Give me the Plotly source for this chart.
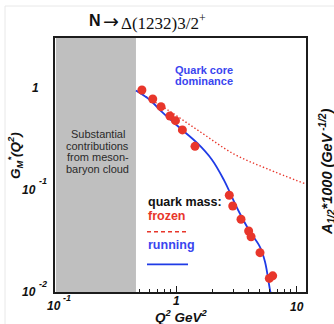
import plotly.graph_objects as go

# ---------------- data ----------------
q2_data = [0.52, 0.64, 0.75, 0.89, 0.99, 1.13, 1.44, 2.78, 2.97, 3.48, 4.03, 4.22, 5.01, 5.99, 6.39]
gm_data = [0.956, 0.78, 0.656, 0.531, 0.478, 0.388, 0.268, 0.0887, 0.0697, 0.0516, 0.0396,
           0.0348, 0.0243, 0.0136, 0.0144]

q2_running = [0.464, 0.607, 0.779, 1.08, 1.50, 2.00, 2.51, 3.29, 4.14, 5.01, 5.52, 6.07, 6.25]
gm_running = [0.945, 0.763, 0.569, 0.405, 0.289, 0.197, 0.125, 0.0637, 0.0388, 0.0276, 0.0197,
              0.0105, 0.0091]

q2_frozen = [0.47, 0.846, 1.61, 3.04, 5.77, 12.05]
gm_frozen = [0.929, 0.613, 0.368, 0.225, 0.161, 0.1145]

cloud_region = [0.1, 0.464]  # Q^2 range of the meson-baryon cloud band

x_minor_ticks = [0.5, 0.6, 0.7, 0.8, 0.9, 2, 3, 4, 5, 6, 7, 8, 9]
x_major_ticks = [1, 10]

# ---------------- layout helpers ----------------
W, H = 334, 324
L, R, T, B = 55, 28, 38, 32
PW, PH = W - L - R, H - T - B


def px(x):
    return (x - L) / PW


def py(y):
    return (H - B - y) / PH


SANS = "Liberation Sans, Arial, sans-serif"
SERIF = "Liberation Serif, Times New Roman, serif"
RED = "#e8362b"
BLUE = "#1f3be6"
TXTBLUE = "#3a45ef"

fig = go.Figure()

fig.add_trace(go.Scatter(x=q2_frozen, y=gm_frozen, mode="lines",
                         line=dict(color=RED, width=1.4, dash="1.4px,2.2px", shape="spline"),
                         showlegend=False, hoverinfo="skip"))
fig.add_trace(go.Scatter(x=q2_running, y=gm_running, mode="lines",
                         line=dict(color=BLUE, width=1.8, shape="spline"),
                         showlegend=False, hoverinfo="skip"))
fig.add_trace(go.Scatter(x=q2_data, y=gm_data, mode="markers",
                         marker=dict(color=RED, size=9, line=dict(width=0)),
                         showlegend=False))

shapes = [
    # meson-baryon cloud band
    dict(type="rect", xref="x", yref="paper", x0=cloud_region[0], x1=cloud_region[1],
         y0=0, y1=1, fillcolor="#bfbfbf", line=dict(width=0), layer="below"),
    # legend lines
    dict(type="line", xref="paper", yref="paper", x0=px(147), x1=px(188), y0=py(231.7), y1=py(231.7),
         line=dict(color=RED, width=1.6, dash="4px,3px")),
    dict(type="line", xref="paper", yref="paper", x0=px(147), x1=px(188), y0=py(264.3), y1=py(264.3),
         line=dict(color=BLUE, width=1.8)),
    # faint outer frame
    dict(type="rect", xref="paper", yref="paper", x0=px(5), x1=px(345), y0=py(340), y1=py(6),
         line=dict(color="#e8e8e8", width=1), fillcolor="rgba(0,0,0,0)"),
]

ann = []


def text(x, y, s, size, color="#111", family=SANS, xanchor="center", angle=0):
    ann.append(dict(x=px(x), y=py(y), xref="paper", yref="paper", text=s, showarrow=False,
                    xanchor=xanchor, yanchor="middle", textangle=angle,
                    font=dict(size=size, color=color, family=family)))


# title
text(102.5, 21, "<b>N</b>", 16, "#111", SANS, "right")
text(110.5, 21, "→", 19, "#111", "DejaVu Sans", "center")
text(118.5, 22, "Δ(1232)3/2<sup>+</sup>", 17, "#111", SERIF, "left")

# y tick labels
text(35, 88, "<b><i>1</i></b>", 12)
text(28.5, 190, "<b><i>10</i></b>", 12)
text(43, 181, "<b><i>-1</i></b>", 9)
text(28.5, 292, "<b><i>10</i></b>", 12)
text(43, 284, "<b><i>-2</i></b>", 9)
# x tick labels
text(53.5, 306, "<b><i>10</i></b>", 12)
text(67, 298, "<b><i>-1</i></b>", 9)
text(176, 301, "<b><i>1</i></b>", 12)
text(296.5, 307, "<b><i>10</i></b>", 12)

# axis titles
text(181, 316, "<b><i>Q<sup>2</sup> GeV<sup>2</sup></i></b>", 13.5)
text(15, 156, "<b><i>G<sub>M</sub><sup>*</sup>(Q<sup>2</sup>)</i></b>", 13.5, angle=-90)
text(327, 172, "<b><i>A<sub>1/2</sub>*1000 (GeV<sup> -1/2</sup>)</i></b>", 14.5, angle=-90)

# annotations inside plot
text(173, 70, "<b>Quark core</b>", 11, TXTBLUE, xanchor="left")
text(173, 81, "<b>dominance</b>", 11, TXTBLUE, xanchor="left")
for yy, s in zip([134, 146, 157, 169], ["Substantial", "contributions", "from meson-", "baryon cloud"]):
    text(97.5, yy, s, 11, "#2a2a2a")

text(146, 201.7, "<b>quark mass:</b>", 12.5, "#111", xanchor="left")
text(146, 216, "<b>frozen</b>", 12.5, RED, xanchor="left")
text(146, 245, "<b>running</b>", 12.5, TXTBLUE, xanchor="left")

fig.update_layout(
    width=W, height=H,
    margin=dict(l=L, r=R, t=T, b=B, pad=0),
    paper_bgcolor="white", plot_bgcolor="white",
    shapes=shapes, annotations=ann, showlegend=False,
    xaxis=dict(type="log", range=[-1.008, 1.083], showline=True, mirror=True,
               linecolor="#1c1c1c", linewidth=2, showgrid=False, zeroline=False,
               ticks="inside", tickvals=x_major_ticks, ticklen=6, tickwidth=1, tickcolor="#1c1c1c",
               showticklabels=False,
               minor=dict(ticks="inside", tickvals=x_minor_ticks, ticklen=3, tickwidth=1,
                          tickcolor="#1c1c1c", showgrid=False)),
    yaxis=dict(type="log", range=[-2, 0.49], showline=True, mirror=True,
               linecolor="#1c1c1c", linewidth=2, showgrid=False, zeroline=False,
               ticks="", showticklabels=False),
)

fig.write_html("out.html")
